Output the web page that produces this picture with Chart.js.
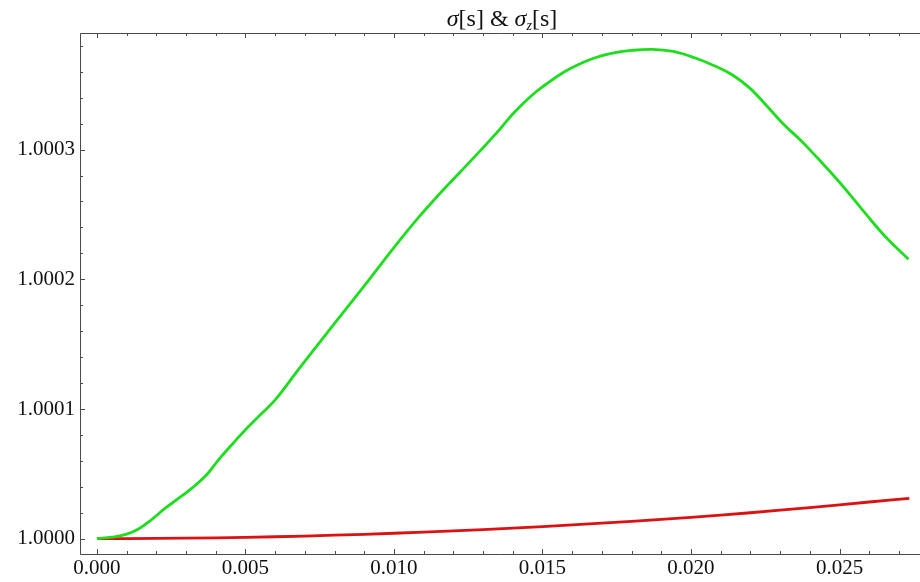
<!DOCTYPE html>
<html>
<head>
<meta charset="utf-8">
<script src="https://cdn.jsdelivr.net/npm/chart.js@4/dist/chart.umd.min.js"></script>
<style>
  html, body { margin: 0; padding: 0; background: #ffffff; }
  #wrap { width: 920px; height: 582px; }
</style>
</head>
<body>
<div id="wrap"><canvas id="c" width="920" height="582"></canvas></div>
<script>
// σ[s]: arc-length samples and values
const sSigma = [0, 0.0005, 0.0010, 0.0014, 0.0018, 0.0023, 0.0028, 0.0032, 0.0037, 0.0041,
  0.0046, 0.0050, 0.0055, 0.0060, 0.0068, 0.0080, 0.0090, 0.0100, 0.0108, 0.0115, 0.0122,
  0.0129, 0.0135, 0.0140, 0.0146, 0.0151, 0.0157, 0.0163, 0.0168, 0.0174, 0.0180, 0.0187,
  0.0194, 0.0201, 0.0208, 0.0214, 0.0220, 0.0225, 0.0231, 0.0237, 0.0242, 0.0248, 0.0254,
  0.0259, 0.0265, 0.02732];
const sigma = [1.0000000, 1.0000012, 1.0000035, 1.0000075, 1.0000140, 1.0000235, 1.0000320,
  1.0000390, 1.0000495, 1.0000610, 1.0000740, 1.0000840, 1.0000955, 1.0001070, 1.0001310,
  1.0001660, 1.0001950, 1.0002245, 1.0002470, 1.0002650, 1.0002820, 1.0002990, 1.0003140,
  1.0003275, 1.0003410, 1.0003500, 1.0003595, 1.0003665, 1.0003710, 1.0003745, 1.0003765,
  1.0003773, 1.0003757, 1.0003710, 1.0003645, 1.0003575, 1.0003470, 1.0003350, 1.0003200,
  1.0003070, 1.0002950, 1.0002800, 1.0002640, 1.0002500, 1.0002340, 1.0002154];

// σz[s]: arc-length samples and values
const sSigmaZ = [0, 0.002, 0.004, 0.006, 0.008, 0.010, 0.012, 0.014, 0.016, 0.018,
  0.020, 0.022, 0.024, 0.026, 0.02735];
const sigmaZ = [1.0000000, 1.0000002, 1.0000007, 1.0000015, 1.0000027, 1.0000042, 1.0000060,
  1.0000082, 1.0000106, 1.0000134, 1.0000164, 1.0000200, 1.0000240, 1.0000283, 1.0000311];

// axis ticks
const xTickVals = [0, 0.005, 0.010, 0.015, 0.020, 0.025];
const yTickVals = [1.0000, 1.0001, 1.0002, 1.0003];
const xMinorStep = 0.001;
const yMinorStep = 0.00002;

const FONT = '"Liberation Serif", "Times New Roman", serif';
const AXIS_COLOR = '#4a4a4a';

const toPoints = (xs, ys) => xs.map((x, i) => ({ x: x, y: ys[i] }));

// frame lines, inward tick marks and the title
const framePlugin = {
  id: 'frame',
  afterDraw(chart) {
    const ctx = chart.ctx;
    const a = chart.chartArea;
    const xs = chart.scales.x, ys = chart.scales.y;
    ctx.save();
    ctx.strokeStyle = AXIS_COLOR;
    ctx.lineWidth = 1;
    ctx.beginPath();
    ctx.moveTo(a.left + 0.5, a.top + 0.5);
    ctx.lineTo(a.left + 0.5, a.bottom + 0.5);
    ctx.lineTo(a.right, a.bottom + 0.5);
    ctx.moveTo(a.left + 0.5, a.top + 0.5);
    ctx.lineTo(a.right, a.top + 0.5);
    ctx.stroke();

    const isMajor = (v, list, eps) => list.some(t => Math.abs(t - v) < eps);
    ctx.beginPath();
    for (let k = 0; ; k++) {
      const v = k * xMinorStep;
      if (v > xs.max) break;
      const px = Math.round(xs.getPixelForValue(v)) + 0.5;
      const len = isMajor(v, xTickVals, 1e-7) ? 5 : 3;
      ctx.moveTo(px, a.bottom);
      ctx.lineTo(px, a.bottom - len);
      ctx.moveTo(px, a.top);
      ctx.lineTo(px, a.top + len);
    }
    for (let k = 0; ; k++) {
      const v = 1 + k * yMinorStep;
      if (v > ys.max) break;
      const py = Math.round(ys.getPixelForValue(v)) + 0.5;
      const len = isMajor(v, yTickVals, 1e-9) ? 5 : 3;
      ctx.moveTo(a.left, py);
      ctx.lineTo(a.left + len, py);
    }
    ctx.stroke();

    // title: σ[s] & σ_z[s]
    const size = 24;
    const parts = [
      { t: 'σ', f: 'italic ' + size + 'px ' + FONT, dy: 0 },
      { t: '[s] & ', f: size + 'px ' + FONT, dy: 0 },
      { t: 'σ', f: 'italic ' + size + 'px ' + FONT, dy: 0 },
      { t: 'z', f: 'italic ' + Math.round(size * 0.6) + 'px ' + FONT, dy: 4 },
      { t: '[s]', f: size + 'px ' + FONT, dy: 0 }
    ];
    let total = 0;
    parts.forEach(p => { ctx.font = p.f; p.w = ctx.measureText(p.t).width; total += p.w; });
    let x = (a.left + a.right) / 2 - total / 2 + 2;
    const base = 26;
    ctx.fillStyle = '#111';
    ctx.textBaseline = 'alphabetic';
    ctx.textAlign = 'left';
    parts.forEach(p => {
      ctx.font = p.f;
      ctx.fillText(p.t, x, base + p.dy);
      x += p.w;
    });
    ctx.restore();
  }
};

new Chart(document.getElementById('c'), {
  type: 'line',
  data: {
    datasets: [
      {
        label: 'σ[s]',
        data: toPoints(sSigma, sigma),
        borderColor: '#1edd1e',
        borderWidth: 2.8,
        pointRadius: 0,
        tension: 0.4,
        fill: false
      },
      {
        label: 'σz[s]',
        data: toPoints(sSigmaZ, sigmaZ),
        borderColor: '#da1212',
        borderWidth: 2.8,
        pointRadius: 0,
        tension: 0.4,
        fill: false
      }
    ]
  },
  options: {
    responsive: false,
    animation: false,
    events: [],
    layout: { padding: { top: 33, right: 0, left: 0, bottom: 0 } },
    plugins: {
      legend: { display: false },
      title: { display: false },
      tooltip: { enabled: false }
    },
    scales: {
      x: {
        type: 'linear',
        min: -0.00057,
        max: 0.02771,
        grid: { display: false, drawTicks: false },
        border: { display: false },
        afterFit: s => { s.height = 28; },
        afterBuildTicks: s => { s.ticks = xTickVals.map(v => ({ value: v })); },
        ticks: {
          padding: 2,
          color: '#111',
          maxRotation: 0,
          autoSkip: false,
          font: { family: FONT, size: 21 },
          callback: v => Number(v).toFixed(3)
        }
      },
      y: {
        type: 'linear',
        min: 0.9999882,
        max: 1.0003899,
        grid: { display: false, drawTicks: false },
        border: { display: false },
        afterFit: s => { s.width = 80; },
        afterBuildTicks: s => { s.ticks = yTickVals.map(v => ({ value: v })); },
        ticks: {
          padding: 5,
          color: '#111',
          autoSkip: false,
          font: { family: FONT, size: 21 },
          callback: v => Number(v).toFixed(4)
        }
      }
    }
  },
  plugins: [framePlugin]
});
</script>
</body>
</html>
